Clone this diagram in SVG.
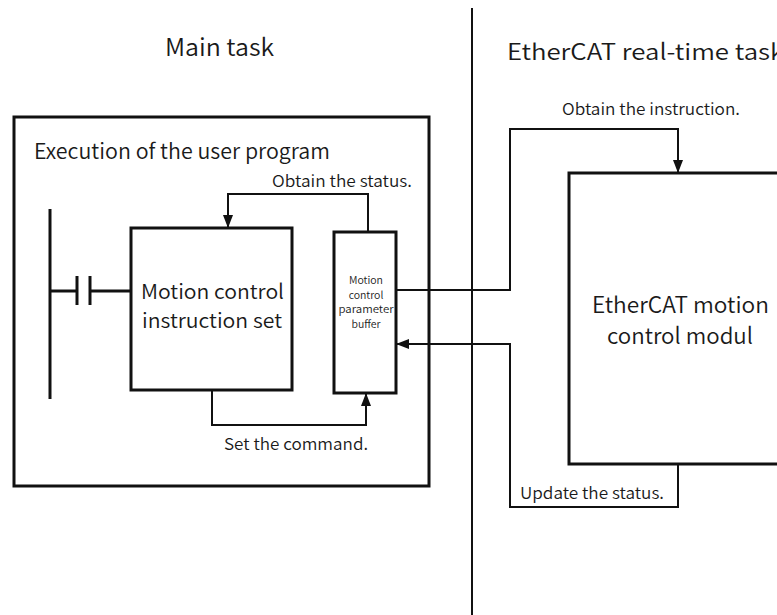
<svg xmlns="http://www.w3.org/2000/svg" width="777" height="615" viewBox="0 0 777 615">
<style>
text{font-family:"Noto Sans CJK SC","Noto Sans",sans-serif;fill:#1a1a1a;font-weight:350}
.box{fill:#fff;stroke:#111;stroke-width:3}
.ln{fill:none;stroke:#111;stroke-width:2}
.ln3{fill:none;stroke:#111;stroke-width:3}
</style>
<defs>
<marker id="ah" viewBox="0 0 13 10" refX="13" refY="5" markerWidth="13" markerHeight="10" markerUnits="userSpaceOnUse" orient="auto">
<path d="M0,0 L13,5 L0,10 z" fill="#111"/>
</marker>
</defs>
<rect width="777" height="615" fill="#fff"/>
<g id="divider"><line x1="472" y1="8" x2="472" y2="615" class="ln"/></g>
<g id="titles">
<text x="165" y="56" font-size="24" textLength="109" lengthAdjust="spacingAndGlyphs">Main task</text>
<text x="507" y="60" font-size="22.5" textLength="277" lengthAdjust="spacingAndGlyphs">EtherCAT real-time task</text>
</g>
<g id="main-task"><rect x="14" y="117" width="415" height="369" class="box"/>
<text x="34" y="159" font-size="21" textLength="296" lengthAdjust="spacingAndGlyphs">Execution of the user program</text></g>
<g id="ladder">
<line x1="50" y1="209" x2="50" y2="399" class="ln3"/>
<line x1="50" y1="291" x2="77" y2="291" class="ln3"/>
<line x1="77" y1="276" x2="77" y2="305" class="ln3"/>
<line x1="90" y1="276" x2="90" y2="305" class="ln3"/>
<line x1="90" y1="291" x2="131" y2="291" class="ln3"/>
</g>
<g id="instruction-set"><rect x="131" y="228" width="161" height="162" class="box"/>
<text x="141" y="299" font-size="20.5" textLength="143" lengthAdjust="spacingAndGlyphs">Motion control</text>
<text x="142" y="327.5" font-size="20.5" textLength="140" lengthAdjust="spacingAndGlyphs">instruction set</text></g>
<g id="buffer"><rect x="334" y="232" width="62" height="161" class="box"/>
<text font-size="10.5" text-anchor="middle"><tspan x="366" y="284">Motion</tspan><tspan x="366" y="298.5">control</tspan><tspan x="366" y="313" textLength="55" lengthAdjust="spacingAndGlyphs">parameter</tspan><tspan x="366" y="327.5">buffer</tspan></text></g>
<g id="ethercat-module"><rect x="569" y="173" width="220" height="291" class="box"/>
<text x="592" y="312.5" font-size="22.5" textLength="177" lengthAdjust="spacingAndGlyphs">EtherCAT motion</text>
<text x="607" y="344" font-size="22.5" textLength="146" lengthAdjust="spacingAndGlyphs">control modul</text></g>
<g id="connectors">
<polyline points="368,232 368,194 228,194 228,228" class="ln" marker-end="url(#ah)"/>
<polyline points="212,390 212,425 366,425 366,393" class="ln" marker-end="url(#ah)"/>
<polyline points="396,290 510,290 510,129 678,129 678,173" class="ln" marker-end="url(#ah)"/>
<polyline points="678,464 678,507 510,507 510,344 396,344" class="ln" marker-end="url(#ah)"/>
</g>
<g id="labels">
<text x="272" y="187" font-size="16.5" textLength="140" lengthAdjust="spacingAndGlyphs">Obtain the status.</text>
<text x="224" y="450" font-size="16.5" textLength="144" lengthAdjust="spacingAndGlyphs">Set the command.</text>
<text x="562" y="115" font-size="16.5" textLength="178" lengthAdjust="spacingAndGlyphs">Obtain the instruction.</text>
<text x="520" y="499" font-size="16.5" textLength="144" lengthAdjust="spacingAndGlyphs">Update the status.</text>
</g>
</svg>
